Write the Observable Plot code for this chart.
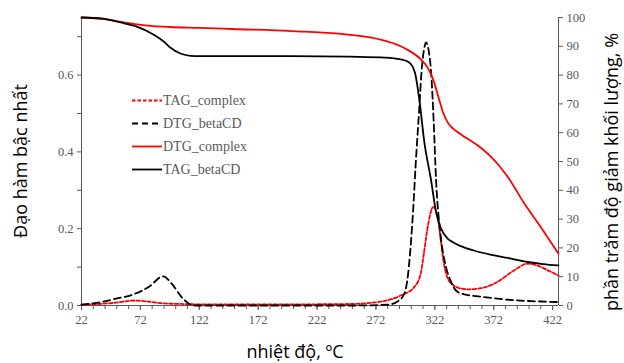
<!DOCTYPE html>
<html><head><meta charset="utf-8">
<script src="https://cdn.jsdelivr.net/npm/d3@7"></script>
<script src="https://cdn.jsdelivr.net/npm/@observablehq/plot@0.6"></script>
<style>body{margin:0;background:#fff}</style>
</head><body><div id="chart"></div>
<script>
// Solid curves (right axis, %)
const tgBlackT = [22,40,55,69,83,92,97.6,106,114.6,122,150,200,250,280,293,300,305,309,313,318.8,323,327,332.5,336,344,355,370,384,401,414,427];
const tgBlackV = [100,99.6,98.3,96.8,94.1,91.6,89.5,87.5,86.7,86.6,86.6,86.6,86.4,86.1,85.5,84.5,81,71,57,43.5,32.5,27,23.4,22.3,20.6,19.1,17.6,16.5,15.1,14.4,13.9];
const tgRedT = [22,40,55,69,83,97.6,122,150,200,250,276,293,300,310,316,321,325,329,333,337,341,347,354,361,368,375,384,398,412,427];
const tgRedV = [100,99.5,98.5,97.6,97,96.7,96.4,96,95.3,94,92.3,90,88.5,85.5,82.5,78,72.5,67,63.5,61.6,60.3,58.6,56.8,54.8,52.3,49.3,44.6,35.4,27.2,18];
// Dashed curves (left axis)
const dtgBlackT = [22,39,50,67,79,91.4,98.5,107,112.7,118,150,250,282,290,296,298.6,301.4,304,305.6,308.5,311,313,314.5,317,319,321,323,327,331.5,336,340,347,361,384,412,427];
const dtgBlackV = [0.002,0.009,0.017,0.03,0.048,0.076,0.057,0.022,0.006,0,0,0,0.002,0.01,0.03,0.065,0.152,0.27,0.36,0.5,0.62,0.67,0.685,0.66,0.6,0.48,0.33,0.18,0.1,0.06,0.039,0.029,0.023,0.015,0.0104,0.009];
const dtgRedT = [22,50,67,79,90,107,121,150,200,250,276,293,304.5,310,312.7,315.5,320.6,324.4,327,329.7,332.5,338,342,350,361,375,389,401,409,421,427];
const dtgRedV = [0.002,0.007,0.013,0.01,0.006,0.004,0.003,0.003,0.003,0.004,0.01,0.026,0.048,0.083,0.135,0.196,0.256,0.23,0.17,0.109,0.074,0.052,0.046,0.042,0.045,0.061,0.091,0.109,0.104,0.087,0.078];

const xMajor = [22,72,122,172,222,272,322,372,422];
const xMinor = d3.range(22, 427, 10);
const yMajor = [0,0.2,0.4,0.6];
const yMinor = [0.1,0.3,0.5,0.7];
const pctTicks = [0,10,20,30,40,50,60,70,80,90,100];
const legendNames = ["TAG_complex","DTG_betaCD","DTG_complex","TAG_betaCD"];
const titleLeft = "Đạo hàm bậc nhất";
const titleRight = "phần trăm độ giảm khối lượng, %";
const titleX = "nhiệt độ, ºC";
const K = 0.75/100;
const SERIF = "'Liberation Serif', 'Times New Roman', 'DejaVu Serif', serif";

const zip = (t, v) => t.map((x, i) => ({x, v: v[i]}));

const plot = Plot.plot({
  width: 624, height: 363,
  marginLeft: 81, marginRight: 66, marginTop: 17, marginBottom: 58,
  x: {domain: [22, 427]},
  y: {domain: [0, 0.75]},
  style: {fontFamily: SERIF, fontSize: "12.5px", color: "#595959", background: "white"},
  marks: [
    Plot.axisX({ticks: xMinor, tickSize: 4, tickFormat: () => "", label: null, stroke: "#595959"}),
    Plot.axisX({ticks: xMajor, tickSize: 5, tickPadding: 5, tickFormat: d => d, label: null, stroke: "#595959", fontFamily: SERIF}),
    Plot.axisY({ticks: yMinor, tickSize: 4, tickFormat: () => "", label: null, stroke: "#595959"}),
    Plot.axisY({ticks: yMajor, tickSize: 4, tickPadding: 4, tickFormat: d3.format(".1f"), label: null, stroke: "#595959", fontFamily: SERIF}),
    Plot.axisY({anchor: "right", ticks: pctTicks.map(p => p*K), tickSize: 4, tickPadding: 4, tickFormat: v => Math.round(v/K), label: null, stroke: "#595959", fontFamily: SERIF}),
    Plot.ruleX([22, 427], {stroke: "#595959"}),
    Plot.ruleY([0], {stroke: "#595959"}),
    Plot.line(zip(dtgRedT, dtgRedV), {x: "x", y: "v", stroke: "#ff0000", strokeWidth: 1.8, strokeDasharray: "3.5,2", curve: "monotone-x"}),
    Plot.line(zip(dtgBlackT, dtgBlackV), {x: "x", y: "v", stroke: "#000", strokeWidth: 1.8, strokeDasharray: "7,4", curve: "monotone-x"}),
    Plot.line(zip(tgRedT, tgRedV), {x: "x", y: d => d.v*K, stroke: "#ff0000", strokeWidth: 1.8, curve: "monotone-x"}),
    Plot.line(zip(tgBlackT, tgBlackV), {x: "x", y: d => d.v*K, stroke: "#000", strokeWidth: 1.8, curve: "monotone-x"})
  ]
});
document.getElementById("chart").appendChild(plot);

const svg = d3.select(plot);
// Axis titles
const tf = g => g.style("font-family", "'Open Sans', sans-serif").style("font-size", "18px").attr("fill", "black").attr("text-anchor", "middle").attr("dy", "0.35em");
svg.append("text").call(tf).attr("transform", "translate(21,161) rotate(-90)").text(titleLeft);
svg.append("text").call(tf).attr("transform", "translate(612,172) rotate(-90)").text(titleRight);
svg.append("text").call(tf).attr("transform", "translate(295,352)").text(titleX);

// Legend
const styles = [
  {stroke: "#ff0000", dash: "3.5,2"},
  {stroke: "#000", dash: "6,4"},
  {stroke: "#ff0000", dash: null},
  {stroke: "#000", dash: null}
];
const lg = svg.append("g");
legendNames.forEach((name, i) => {
  const y = 100.5 + i*23;
  lg.append("line").attr("x1", 132).attr("x2", 162).attr("y1", y).attr("y2", y)
    .attr("stroke", styles[i].stroke).attr("stroke-width", 1.8)
    .attr("stroke-dasharray", styles[i].dash);
  lg.append("text").attr("x", 163).attr("y", y).attr("dy", "0.35em").attr("text-anchor", "start")
    .style("font-family", SERIF).style("font-size", "14px").attr("fill", "#595959")
    .text(name);
});
</script>
</body></html>
